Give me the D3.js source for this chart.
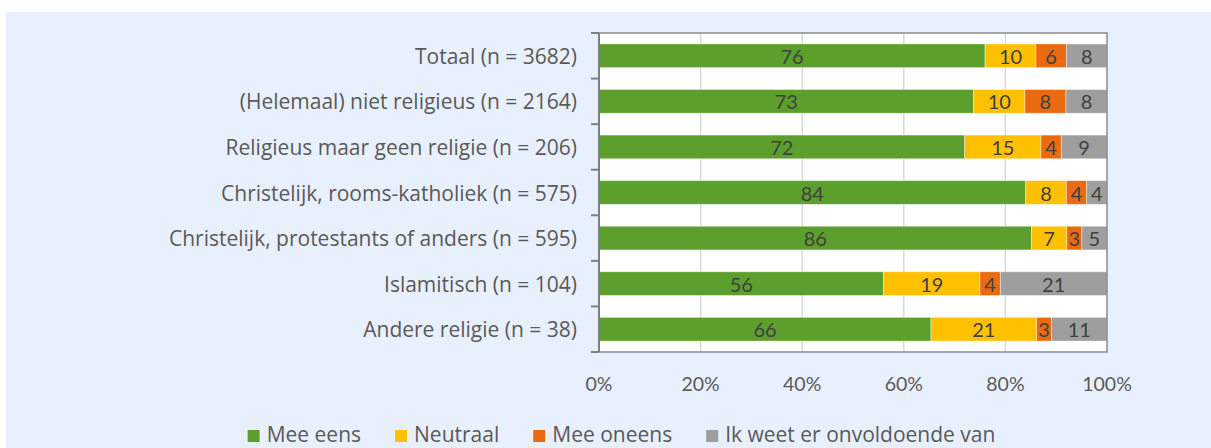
<!DOCTYPE html>
<html>
<head>
<meta charset="utf-8">
<script src="https://cdn.jsdelivr.net/npm/d3@7"></script>
<style>
  html, body { margin: 0; padding: 0; background: #ffffff; }
  svg { display: block; }
  text { font-family: "Open Sans", Lato, sans-serif; }
  text.num { font-family: Lato, "Open Sans", sans-serif; }
</style>
</head>
<body>
<svg id="chart" width="1211" height="448"></svg>
<script>
// Categories (top to bottom) and the share per answer, in percent
const categories = [
  "Totaal (n = 3682)",
  "(Helemaal) niet religieus (n = 2164)",
  "Religieus maar geen religie (n = 206)",
  "Christelijk, rooms-katholiek (n = 575)",
  "Christelijk, protestants of anders (n = 595)",
  "Islamitisch (n = 104)",
  "Andere religie (n = 38)"
];
const seriesNames = ["Mee eens", "Neutraal", "Mee oneens", "Ik weet er onvoldoende van"];
const meeEens     = [76, 73, 72, 84, 86, 56, 66];
const neutraal    = [10, 10, 15,  8,  7, 19, 21];
const meeOneens   = [ 6,  8,  4,  4,  3,  4,  3];
const weetNiet    = [ 8,  8,  9,  4,  5, 21, 11];
const xTicks = [0, 0.2, 0.4, 0.6, 0.8, 1];
const colors = ["#5c9f2c", "#ffc000", "#e96a10", "#9e9e9e"];

const seriesValues = [meeEens, neutraal, meeOneens, weetNiet];

// 100% stacked: each row is normalised by its own total
const rows = categories.map((c, i) => {
  const row = { category: c };
  seriesNames.forEach((s, j) => { row[s] = seriesValues[j][i]; });
  row.total = seriesNames.reduce((a, s) => a + row[s], 0);
  return row;
});
const stack = d3.stack()
  .keys(seriesNames)
  .value((d, key) => d[key] / d.total);
const layers = stack(rows);

const svg = d3.select("#chart");

// light panel behind the chart
svg.append("rect")
  .attr("x", 6).attr("y", 12).attr("width", 1205).attr("height", 436)
  .attr("fill", "#e9f0fd");

const plot = { left: 599, right: 1107, top: 33, bottom: 352 };

const x = d3.scaleLinear().domain([0, 1]).range([plot.left, plot.right]);
const y = d3.scaleBand().domain(categories).range([plot.top, plot.bottom]).paddingInner(0.48).paddingOuter(0.24);
const yOuter = d3.scaleBand().domain(categories).range([plot.top, plot.bottom]);

// plot background
svg.append("rect")
  .attr("x", plot.left).attr("y", plot.top)
  .attr("width", plot.right - plot.left).attr("height", plot.bottom - plot.top)
  .attr("fill", "#ffffff");

// vertical gridlines
svg.append("g")
  .selectAll("line")
  .data(xTicks.slice(1, -1))
  .join("line")
  .attr("x1", d => x(d)).attr("x2", d => x(d))
  .attr("y1", plot.top).attr("y2", plot.bottom)
  .attr("stroke", "#d9d9d9").attr("stroke-width", 1.5);

// stacked bars
const layerG = svg.append("g")
  .selectAll("g")
  .data(layers)
  .join("g")
  .attr("fill", (d, i) => colors[i]);

layerG.selectAll("rect")
  .data(d => d)
  .join("rect")
  .attr("x", d => x(d[0]))
  .attr("y", d => y(d.data.category))
  .attr("width", d => x(d[1]) - x(d[0]))
  .attr("height", y.bandwidth())
  .attr("stroke", "#ffffff").attr("stroke-opacity", 0.5).attr("stroke-width", 0.8);

// value labels centred in each segment
layers.forEach((layer, j) => {
  svg.append("g")
    .selectAll("text")
    .data(layer)
    .join("text")
    .attr("class", "num")
    .attr("x", d => (x(d[0]) + x(d[1])) / 2)
    .attr("y", d => y(d.data.category) + y.bandwidth() / 2 + 8)
    .attr("text-anchor", "middle")
    .attr("font-size", 20)
    .attr("fill", "#404040")
    .text(d => d.data[seriesNames[j]]);
});

// plot frame
svg.append("rect")
  .attr("x", plot.left).attr("y", plot.top)
  .attr("width", plot.right - plot.left).attr("height", plot.bottom - plot.top)
  .attr("fill", "none").attr("stroke", "#8a8a8a").attr("stroke-width", 1.5);

// category axis
const yAxis = svg.append("g")
  .attr("transform", `translate(${plot.left},0)`);
yAxis.append("line")
  .attr("x1", 0).attr("x2", 0).attr("y1", plot.top).attr("y2", plot.bottom)
  .attr("stroke", "#7f7f7f").attr("stroke-width", 2);
yAxis.selectAll("line.tick")
  .data(categories.map(c => yOuter(c)).concat([plot.bottom]))
  .join("line")
  .attr("class", "tick")
  .attr("x1", -8).attr("x2", 0)
  .attr("y1", d => d).attr("y2", d => d)
  .attr("stroke", "#7f7f7f").attr("stroke-width", 2);
yAxis.selectAll("text")
  .data(categories)
  .join("text")
  .attr("x", -22)
  .attr("y", d => y(d) + y.bandwidth() / 2 + 8)
  .attr("text-anchor", "end")
  .attr("font-size", 21)
  .attr("fill", "#595959")
  .text(d => d);

// percentage axis labels
svg.append("g")
  .selectAll("text")
  .data(xTicks)
  .join("text")
  .attr("class", "num")
  .attr("x", d => x(d))
  .attr("y", 391)
  .attr("text-anchor", "middle")
  .attr("font-size", 19.5)
  .attr("fill", "#595959")
  .text(d => d3.format(".0%")(d));

// legend, centred below the chart
const legend = svg.append("g");
const items = legend.selectAll("g")
  .data(seriesNames)
  .join("g");
items.append("rect")
  .attr("x", 0).attr("y", -12).attr("width", 12).attr("height", 12)
  .attr("fill", (d, i) => colors[i]);
items.append("text")
  .attr("x", 19).attr("y", 0)
  .attr("font-size", 21)
  .attr("fill", "#595959")
  .text(d => d);
let cursor = 0;
items.each(function () {
  const g = d3.select(this);
  g.attr("transform", `translate(${cursor},0)`);
  const w = g.select("text").node().getComputedTextLength();
  cursor += 19 + w + 34;
});
const legendWidth = cursor - 34;
legend.attr("transform", `translate(${621.5 - legendWidth / 2},442)`);
</script>
</body>
</html>
